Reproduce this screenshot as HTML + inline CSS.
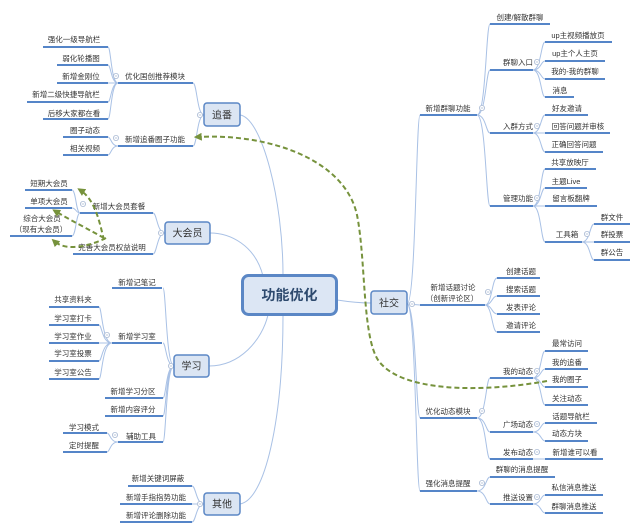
<!DOCTYPE html>
<html><head><meta charset="utf-8"><style>
html,body{margin:0;padding:0;background:#fff;}
svg{display:block}
text{font-family:"Liberation Sans","Noto Sans CJK SC",sans-serif;font-size:7.5px;fill:#333;text-anchor:middle}
.c{fill:none;stroke:#a9c1e5;stroke-width:1}
.u{stroke:#5585c8;stroke-width:2}
.b{fill:#dbe5f3;stroke:#5b87c5;stroke-width:1.5}
.bt{font-size:10px;fill:#333}
.g{fill:none;stroke:#76923c;stroke-width:2;stroke-dasharray:5 3}
</style></head><body>
<svg width="640" height="532" viewBox="0 0 640 532" xmlns="http://www.w3.org/2000/svg">
<defs>
<g id="k"><circle r="2.6" fill="#fff" stroke="#a9b9d3" stroke-width="0.8"/><path d="M-1.3 0H1.3" stroke="#a9b9d3" stroke-width="0.8"/></g>
<marker id="ah" viewBox="0 0 10 10" refX="6" refY="5" markerWidth="4" markerHeight="4" orient="auto"><path d="M0 0L10 5L0 10z" fill="#76923c"/></marker>
</defs>

<!-- main connectors -->
<path class="c" d="M283,275 C283,200 262,118 240,115"/>
<path class="c" d="M263,276 C255,245 230,233 210,233"/>
<path class="c" d="M268,315 C262,340 240,366 209,366"/>
<path class="c" d="M283,315 C283,420 265,500 240,504"/>
<path class="c" d="M337,300 C350,302 360,303 371,303"/>

<!-- 追番 branch -->
<path class="c" d="M204,115 C197,115 197,83 193,83 M204,115 C197,115 197,146 193,146"/>
<path class="c" d="M118,83 C111,83 111,47 108,47 M118,83 C111,83 111,65 108,65 M118,83 L108,83 M118,83 C111,83 111,102 108,102 M118,83 C111,83 111,119 108,119"/>
<path class="c" d="M118,146 C111,146 111,137 108,137 M118,146 C111,146 111,155 108,155"/>
<line class="u" x1="43" y1="47" x2="108" y2="47"/><text x="74" y="42">强化一级导航栏</text>
<line class="u" x1="57" y1="65" x2="108" y2="65"/><text x="81" y="61">弱化轮播图</text>
<line class="u" x1="57" y1="83" x2="108" y2="83"/><text x="81" y="79">新增金刚位</text>
<line class="u" x1="27" y1="102" x2="108" y2="102"/><text x="66" y="97">新增二级快捷导航栏</text>
<line class="u" x1="43" y1="119" x2="108" y2="119"/><text x="74" y="116">后移大家都在看</text>
<line class="u" x1="118" y1="83" x2="193" y2="83"/><text x="155" y="79">优化国创推荐模块</text>
<line class="u" x1="63" y1="137" x2="108" y2="137"/><text x="85" y="133">圈子动态</text>
<line class="u" x1="63" y1="155" x2="108" y2="155"/><text x="85" y="151">相关视频</text>
<line class="u" x1="118" y1="146" x2="193" y2="146"/><text x="155" y="142">新增追番圈子功能</text>
<use href="#k" x="116" y="76"/><use href="#k" x="116" y="138"/><use href="#k" x="200" y="115"/>
<rect class="b" x="204" y="103" width="36" height="23" rx="3"/><text class="bt" x="222" y="118.5">追番</text>

<!-- 大会员 branch -->
<path class="c" d="M165,233 C157,233 157,213 153,213 M165,233 C157,233 157,254 153,254"/>
<path class="c" d="M80,213 C76,213 76,190 72,190 M80,213 C76,213 76,208 72,208 M80,213 C76,213 76,236 72,236"/>
<line class="u" x1="25" y1="190" x2="72" y2="190"/><text x="49" y="186">短期大会员</text>
<line class="u" x1="25" y1="208" x2="72" y2="208"/><text x="49" y="204">单项大会员</text>
<line class="u" x1="10" y1="236" x2="72" y2="236"/><text x="42" y="221">综合大会员</text><text x="41" y="232">（现有大会员）</text>
<line class="u" x1="80" y1="213" x2="153" y2="213"/><text x="119" y="209">新增大会员套餐</text>
<line class="u" x1="73" y1="254" x2="153" y2="254"/><text x="112" y="250">完善大会员权益说明</text>
<use href="#k" x="83" y="204"/><use href="#k" x="161" y="233"/>
<rect class="b" x="165" y="222" width="45" height="22" rx="3"/><text class="bt" x="187.5" y="236.5">大会员</text>

<!-- 学习 branch -->
<path class="c" d="M174,366 C166,366 166,288 163,288 M174,366 C166,366 166,343 163,343 M174,366 C166,366 166,398 163,398 M174,366 C166,366 166,416 163,416 M174,366 C166,366 166,442 163,442"/>
<path class="c" d="M112,343 C102,343 102,307 99,307 M112,343 C102,343 102,325 99,325 M112,343 L99,343 M112,343 C102,343 102,361 99,361 M112,343 C102,343 102,379 99,379"/>
<path class="c" d="M118,442 C110,442 110,433 107,433 M118,442 C110,442 110,452 107,452"/>
<line class="u" x1="112" y1="288" x2="162" y2="288"/><text x="137" y="285">新增记笔记</text>
<line class="u" x1="112" y1="343" x2="162" y2="343"/><text x="137" y="339">新增学习室</text>
<line class="u" x1="49" y1="307" x2="99" y2="307"/><text x="73" y="302">共享资料夹</text>
<line class="u" x1="49" y1="325" x2="99" y2="325"/><text x="73" y="321">学习室打卡</text>
<line class="u" x1="49" y1="343" x2="99" y2="343"/><text x="73" y="339">学习室作业</text>
<line class="u" x1="49" y1="361" x2="99" y2="361"/><text x="73" y="356">学习室投票</text>
<line class="u" x1="49" y1="379" x2="99" y2="379"/><text x="73" y="375">学习室公告</text>
<line class="u" x1="105" y1="398" x2="163" y2="398"/><text x="133" y="394">新增学习分区</text>
<line class="u" x1="105" y1="416" x2="163" y2="416"/><text x="133" y="412">新增内容评分</text>
<line class="u" x1="118" y1="442" x2="163" y2="442"/><text x="141" y="439">辅助工具</text>
<line class="u" x1="63" y1="433" x2="107" y2="433"/><text x="84" y="430">学习模式</text>
<line class="u" x1="63" y1="452" x2="107" y2="452"/><text x="84" y="448">定时提醒</text>
<use href="#k" x="107" y="335"/><use href="#k" x="115" y="435"/><use href="#k" x="171" y="366"/>
<rect class="b" x="174" y="355" width="35" height="22" rx="3"/><text class="bt" x="191.5" y="369.5">学习</text>

<!-- 其他 branch -->
<path class="c" d="M204,504 C196,504 196,486 192,486 M204,504 L192,504 M204,504 C196,504 196,522 192,522"/>
<line class="u" x1="128" y1="486" x2="192" y2="486"/><text x="158" y="481">新增关键词屏蔽</text>
<line class="u" x1="120" y1="504" x2="192" y2="504"/><text x="156" y="500">新增手指指势功能</text>
<line class="u" x1="120" y1="522" x2="192" y2="522"/><text x="156" y="518">新增评论删除功能</text>
<use href="#k" x="200" y="504"/>
<rect class="b" x="204" y="493" width="36" height="22" rx="3"/><text class="bt" x="222" y="507.5">其他</text>

<!-- 社交 branch -->
<path class="c" d="M407,304 C416,304 416,115 420,115 M407,304 L420,305 M407,304 C416,304 416,418 420,418 M407,304 C416,304 416,491 420,491"/>
<path class="c" d="M477,115 C486,115 486,24 490,24 M477,115 C486,115 486,70 490,70 M477,115 C486,115 486,133 490,133 M477,115 C486,115 486,206 490,206"/>
<path class="c" d="M533,70 C541,70 541,42 545,42 M533,70 C541,70 541,61 545,61 M533,70 C541,70 541,79 545,79 M533,70 C541,70 541,97 545,97"/>
<path class="c" d="M533,133 C541,133 541,115 545,115 M533,133 L545,133 M533,133 C541,133 541,152 545,152"/>
<path class="c" d="M533,206 C541,206 541,169 545,169 M533,206 C541,206 541,188 545,188 M533,206 L545,206 M533,206 C541,206 541,242 545,242"/>
<path class="c" d="M582,242 C590,242 590,224 594,224 M582,242 L594,242 M582,242 C590,242 590,260 594,260"/>
<path class="c" d="M485,305 C492,305 492,278 497,278 M485,305 C492,305 492,296 497,296 M485,305 C492,305 492,314 497,314 M485,305 C492,305 492,332 497,332"/>
<path class="c" d="M477,418 C486,418 486,378 490,378 M477,418 C486,418 486,432 490,432 M477,418 C486,418 486,459 490,459"/>
<path class="c" d="M533,378 C541,378 541,351 545,351 M533,378 C541,378 541,369 545,369 M533,378 C541,378 541,387 545,387 M533,378 C541,378 541,405 545,405"/>
<path class="c" d="M533,432 C541,432 541,423 545,423 M533,432 C541,432 541,441 545,441 M533,459 L545,459"/>
<path class="c" d="M477,491 C486,491 486,477 490,477 M477,491 C486,491 486,504 490,504"/>
<path class="c" d="M533,504 C541,504 541,495 545,495 M533,504 C541,504 541,513 545,513"/>

<line class="u" x1="420" y1="115" x2="477" y2="115"/><text x="448" y="111">新增群聊功能</text>
<line class="u" x1="490" y1="24" x2="550" y2="24"/><text x="520" y="20">创建/解散群聊</text>
<line class="u" x1="490" y1="70" x2="533" y2="70"/><text x="518" y="65">群聊入口</text>
<line class="u" x1="545" y1="42" x2="612" y2="42"/><text x="578" y="38">up主视频播放页</text>
<line class="u" x1="545" y1="61" x2="605" y2="61"/><text x="575" y="56">up主个人主页</text>
<line class="u" x1="545" y1="79" x2="605" y2="79"/><text x="575" y="74">我的-我的群聊</text>
<line class="u" x1="545" y1="97" x2="574" y2="97"/><text x="560" y="93">消息</text>
<line class="u" x1="490" y1="133" x2="533" y2="133"/><text x="518" y="129">入群方式</text>
<line class="u" x1="545" y1="115" x2="588" y2="115"/><text x="567" y="111">好友邀请</text>
<line class="u" x1="545" y1="133" x2="610" y2="133"/><text x="578" y="129">回答问题并审核</text>
<line class="u" x1="545" y1="152" x2="603" y2="152"/><text x="574" y="147">正确回答问题</text>
<line class="u" x1="490" y1="206" x2="533" y2="206"/><text x="518" y="201">管理功能</text>
<line class="u" x1="545" y1="169" x2="596" y2="169"/><text x="570" y="165">共享放映厅</text>
<line class="u" x1="545" y1="188" x2="587" y2="188"/><text x="566" y="184">主题Live</text>
<line class="u" x1="545" y1="206" x2="597" y2="206"/><text x="571" y="201">留言板翻牌</text>
<line class="u" x1="545" y1="242" x2="582" y2="242"/><text x="567" y="237">工具箱</text>
<line class="u" x1="594" y1="224" x2="630" y2="224"/><text x="612" y="220">群文件</text>
<line class="u" x1="594" y1="242" x2="630" y2="242"/><text x="612" y="237">群投票</text>
<line class="u" x1="594" y1="260" x2="630" y2="260"/><text x="612" y="255">群公告</text>
<line class="u" x1="420" y1="305" x2="485" y2="305"/><text x="453" y="290">新增话题讨论</text><text x="452" y="301">（创新评论区）</text>
<line class="u" x1="497" y1="278" x2="540" y2="278"/><text x="521" y="274">创建话题</text>
<line class="u" x1="497" y1="296" x2="540" y2="296"/><text x="521" y="292">搜索话题</text>
<line class="u" x1="497" y1="314" x2="540" y2="314"/><text x="521" y="310">发表评论</text>
<line class="u" x1="497" y1="332" x2="540" y2="332"/><text x="521" y="328">邀请评论</text>
<line class="u" x1="420" y1="418" x2="477" y2="418"/><text x="448" y="414">优化动态模块</text>
<line class="u" x1="490" y1="378" x2="533" y2="378"/><text x="518" y="374">我的动态</text>
<line class="u" x1="545" y1="351" x2="588" y2="351"/><text x="567" y="346">最常访问</text>
<line class="u" x1="545" y1="369" x2="588" y2="369"/><text x="567" y="365">我的追番</text>
<line class="u" x1="545" y1="387" x2="588" y2="387"/><text x="567" y="382">我的圈子</text>
<line class="u" x1="545" y1="405" x2="588" y2="405"/><text x="567" y="401">关注动态</text>
<line class="u" x1="490" y1="432" x2="533" y2="432"/><text x="518" y="427">广场动态</text>
<line class="u" x1="545" y1="423" x2="597" y2="423"/><text x="571" y="419">话题导航栏</text>
<line class="u" x1="545" y1="441" x2="588" y2="441"/><text x="567" y="436">动态方块</text>
<line class="u" x1="490" y1="459" x2="533" y2="459"/><text x="518" y="455">发布动态</text>
<line class="u" x1="545" y1="459" x2="603" y2="459"/><text x="575" y="455">新增谁可以看</text>
<line class="u" x1="420" y1="491" x2="477" y2="491"/><text x="448" y="486">强化消息提醒</text>
<line class="u" x1="490" y1="477" x2="555" y2="477"/><text x="522" y="472">群聊的消息提醒</text>
<line class="u" x1="490" y1="504" x2="533" y2="504"/><text x="518" y="500">推送设置</text>
<line class="u" x1="545" y1="495" x2="603" y2="495"/><text x="574" y="490">私信消息推送</text>
<line class="u" x1="545" y1="513" x2="603" y2="513"/><text x="574" y="509">群聊消息推送</text>
<use href="#k" x="482" y="108"/><use href="#k" x="537" y="62"/><use href="#k" x="537" y="126"/><use href="#k" x="537" y="198"/><use href="#k" x="587" y="234"/>
<use href="#k" x="488" y="292"/><use href="#k" x="482" y="411"/><use href="#k" x="537" y="371"/><use href="#k" x="537" y="424"/><use href="#k" x="537" y="452"/>
<use href="#k" x="482" y="483"/><use href="#k" x="537" y="497"/><use href="#k" x="412" y="304"/>
<rect class="b" x="371" y="291" width="36" height="23" rx="3"/><text class="bt" x="389" y="306.5">社交</text>

<!-- main box -->
<rect x="242.5" y="275.5" width="94" height="39" rx="6" fill="#dce6f4" stroke="#5b87c5" stroke-width="3"/>
<text x="289.5" y="300" style="font-size:14px;font-weight:bold;fill:#2e4a6e">功能优化</text>

<!-- green dashed relations -->
<path class="g" marker-end="url(#ah)" d="M547,381 C480,393 400,392 378,360 C362,335 366,260 357,215 C345,160 270,133 197,137"/>
<path class="g" marker-end="url(#ah)" d="M104,240 C100,225 96,200 80,190"/>
<path class="g" marker-end="url(#ah)" d="M104,238 C90,230 70,220 55,211"/>
<path class="g" marker-end="url(#ah)" d="M106,238 C90,246 66,252 54,241"/>
</svg>
</body></html>
